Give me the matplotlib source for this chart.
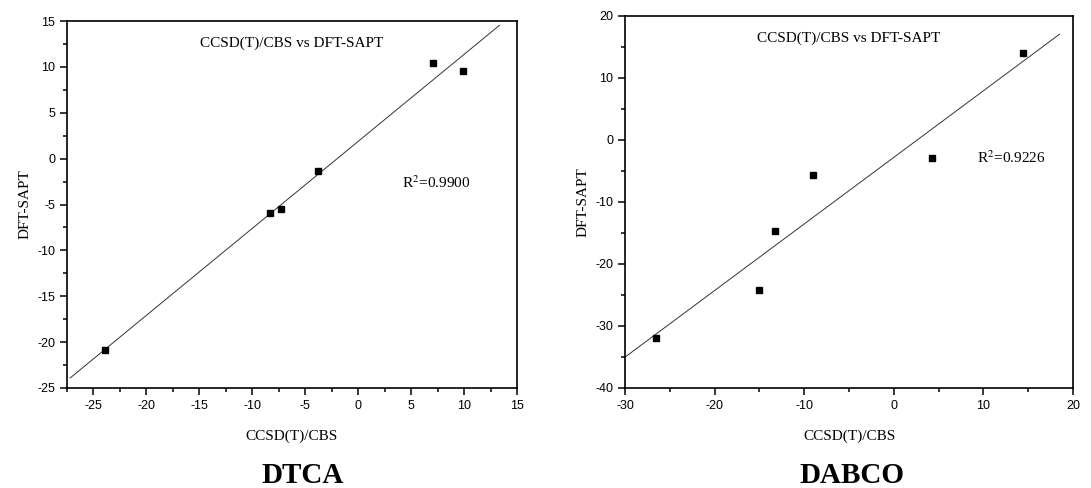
import numpy as np
import matplotlib
matplotlib.use("Agg")
import matplotlib.pyplot as plt
from matplotlib.ticker import MultipleLocator

plt.rcParams["axes.unicode_minus"] = False

# interaction energies, CCSD(T)/CBS vs DFT-SAPT
dtca_ccsd = [7.05, 9.9, -3.8, -8.3, -7.3, -23.9]
dtca_sapt = [10.4, 9.6, -1.4, -5.95, -5.5, -20.85]
dabco_ccsd = [14.4, 4.3, -9.0, -13.3, -15.0, -26.55]
dabco_sapt = [14.0, -2.95, -5.6, -14.65, -24.15, -31.95]

dtca_r2 = "0.9900"
dabco_r2 = "0.9226"

serif = "Liberation Serif"
sans = "Liberation Sans"

fig = plt.figure(figsize=(10.91, 4.88), dpi=100)


def panel(rect, x, y, r2, xlim, ylim, xmaj, ymaj, fit_x, r2_pos, name, name_x):
    ax = fig.add_axes(rect)
    k, b = np.polyfit(x, y, 1)
    fx = np.array(fit_x)
    ax.plot(fx, k * fx + b, color="#333333", lw=0.7)
    ax.plot(x, y, "s", color="black", ms=5)
    ax.set_xlim(xlim)
    ax.set_ylim(ylim)
    ax.xaxis.set_major_locator(MultipleLocator(xmaj))
    ax.xaxis.set_minor_locator(MultipleLocator(xmaj / 2))
    ax.yaxis.set_major_locator(MultipleLocator(ymaj))
    ax.yaxis.set_minor_locator(MultipleLocator(ymaj / 2))
    ax.tick_params(which="major", direction="out", length=5, width=1.1, labelsize=9)
    ax.tick_params(which="minor", direction="out", length=3, width=1.1)
    for lab in ax.get_xticklabels() + ax.get_yticklabels():
        lab.set_family(sans)
    for s in ax.spines.values():
        s.set_linewidth(1.2)
    ax.set_xlabel("CCSD(T)/CBS", family=serif, fontsize=11, labelpad=13)
    ax.set_ylabel("DFT-SAPT", family=serif, fontsize=11, labelpad=4)
    ax.text(0.5, 0.94, "CCSD(T)/CBS vs DFT-SAPT", transform=ax.transAxes,
            ha="center", va="center", family=serif, fontsize=11)
    ax.text(r2_pos[0], r2_pos[1], "R$^2$=" + r2, transform=ax.transAxes,
            ha="left", va="center", family=serif, fontsize=11,
            math_fontfamily="stix")
    fig.text(name_x, 0.025, name, ha="center", va="center", family=serif,
             fontsize=21, fontweight="bold")
    return ax


W, H = 1091, 488
panel([67 / W, 1 - 388 / H, 450 / W, 367 / H], dtca_ccsd, dtca_sapt, dtca_r2,
      (-27.5, 15), (-25, 15), 5, 5, [-27.2, 13.35], (0.745, 0.56), "DTCA", 303 / W)
panel([625 / W, 1 - 388 / H, 448 / W, 372 / H], dabco_ccsd, dabco_sapt, dabco_r2,
      (-30, 20), (-40, 20), 10, 10, [-30, 18.5], (0.785, 0.62), "DABCO", 852 / W)

fig.savefig("out.png", dpi=100)
